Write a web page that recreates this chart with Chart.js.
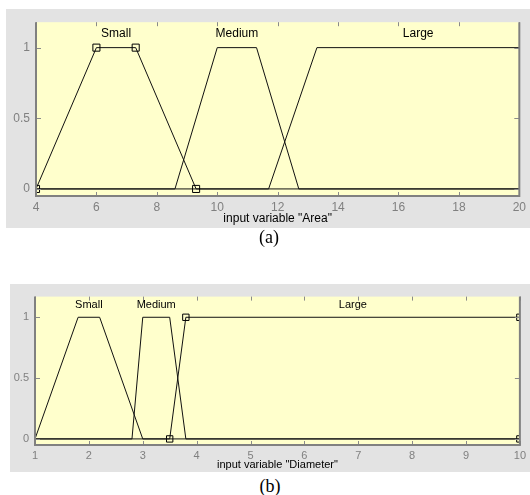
<!DOCTYPE html>
<html>
<head>
<meta charset="utf-8">
<script src="https://cdn.jsdelivr.net/npm/chart.js@4/dist/chart.umd.min.js"></script>
<style>
  html,body{margin:0;padding:0;background:#fff;width:530px;height:495px;overflow:hidden;}
  .box{position:absolute;background:#e3e3e3;}
  .cap{position:absolute;font-family:"Liberation Serif","Times New Roman",serif;font-size:18px;line-height:20px;color:#000;width:60px;text-align:center;}
</style>
</head>
<body>
<div class="box" style="left:6px;top:9px;width:524px;height:219px;"><canvas id="ca" width="524" height="219"></canvas></div>
<div class="cap" style="left:239px;top:227px;">(a)</div>
<div class="box" style="left:10px;top:284px;width:520px;height:188px;"><canvas id="cb" width="520" height="188"></canvas></div>
<div class="cap" style="left:240px;top:476px;">(b)</div>
<script>
// ---------- data: (a) input variable "Area" ----------
const areaTicksX = [4, 6, 8, 10, 12, 14, 16, 18, 20];
const yTicks = [0, 0.5, 1];
const areaSmallX = [4, 6, 7.3, 9.3, 20];
const areaSmallY = [0, 1, 1, 0, 0];
const areaSmallMarks = [1, 1, 1, 1, 0];
const areaMediumX = [4, 8.6, 10, 11.3, 12.7, 20];
const areaMediumY = [0, 0, 1, 1, 0, 0];
const areaLargeX = [4, 11.7, 13.3, 20];
const areaLargeY = [0, 0, 1, 1];
const areaNames = ['Small', 'Medium', 'Large'];
const areaNameX = [6.65, 10.65, 16.65];
const nameY = 1.1;

// ---------- data: (b) input variable "Diameter" ----------
const diaTicksX = [1, 2, 3, 4, 5, 6, 7, 8, 9, 10];
const diaSmallX = [1, 1.8, 2.2, 3, 10];
const diaSmallY = [0, 1, 1, 0, 0];
const diaMediumX = [1, 2.8, 3, 3.5, 3.8, 10];
const diaMediumY = [0, 0, 1, 1, 0, 0];
const diaLargeX = [1, 3.5, 3.8, 10, 10];
const diaLargeY = [0, 0, 1, 1, 0];
const diaLargeMarks = [0, 1, 1, 1, 1];
const diaNames = ['Small', 'Medium', 'Large'];
const diaNameX = [2.0, 3.25, 6.9];

const pts = (xs, ys) => xs.map((x, i) => ({x: x, y: ys[i]}));
const FONT = '"Liberation Sans", Arial, sans-serif';

function frame(cfg) {
  return {
    id: 'frame',
    beforeDraw(chart) {
      const a = chart.chartArea, c = chart.ctx;
      c.save();
      c.fillStyle = '#ffffcc';
      c.fillRect(a.left, a.top, a.right - a.left, a.bottom - a.top);
      c.restore();
    },
    afterDatasetsDraw(chart) {
      const a = chart.chartArea, c = chart.ctx;
      const xs = chart.scales.x, ys = chart.scales.y;
      c.save();
      c.strokeStyle = '#8a8a8a';
      c.lineWidth = 1;
      xs.ticks.forEach(t => {
        const px = Math.round(xs.getPixelForValue(t.value)) + 0.5;
        c.beginPath();
        c.moveTo(px, a.bottom); c.lineTo(px, a.bottom - 4);
        c.moveTo(px, a.top); c.lineTo(px, a.top + 4);
        c.stroke();
      });
      ys.ticks.forEach(t => {
        const py = Math.round(ys.getPixelForValue(t.value)) + 0.5;
        c.beginPath();
        c.moveTo(a.left, py); c.lineTo(a.left + 5, py);
        c.moveTo(a.right, py); c.lineTo(a.right - 5, py);
        c.stroke();
      });
      c.lineWidth = 2;
      c.strokeStyle = '#808080';
      c.beginPath();
      c.moveTo(a.left, a.top); c.lineTo(a.left, a.bottom);
      c.lineTo(a.right, a.bottom); c.lineTo(a.right, a.top);
      c.stroke();
      // MF names
      c.fillStyle = '#000';
      c.font = cfg.nameFont + 'px ' + FONT;
      c.textAlign = 'center';
      c.textBaseline = 'middle';
      cfg.names.forEach((n, i) => {
        c.fillText(n, xs.getPixelForValue(cfg.nameX[i]), ys.getPixelForValue(nameY));
      });
      c.restore();
    }
  };
}

function makeChart(id, cfg) {
  const line = (data, marks, r) => ({
    data: data,
    showLine: true,
    borderColor: '#111',
    borderWidth: 1,
    pointStyle: 'rect',
    pointRadius: marks ? marks.map(m => m ? r : 0) : 0,
    pointHoverRadius: 0,
    pointBorderColor: '#000',
    pointBorderWidth: 1,
    pointBackgroundColor: 'rgba(0,0,0,0)',
    tension: 0
  });
  return new Chart(document.getElementById(id), {
    type: 'scatter',
    data: {datasets: cfg.datasets.map(d => line(d.data, d.marks, cfg.markR))},
    options: {
      responsive: false,
      animation: false,
      events: [],
      layout: {padding: {top: 0, right: cfg.padRight, bottom: 0, left: 0}},
      plugins: {legend: {display: false}, tooltip: {enabled: false}},
      scales: {
        x: {
          type: 'linear', min: cfg.xMin, max: cfg.xMax,
          afterBuildTicks: s => { s.ticks = cfg.xTicks.map(v => ({value: v})); },
          afterFit: s => { s.height = cfg.xH; },
          grid: {display: false, drawTicks: false},
          border: {display: false},
          ticks: {color: '#808080', padding: 4, maxRotation: 0, autoSkip: false,
                  callback: v => String(v),
                  font: {family: FONT, size: cfg.tickFont}},
          title: {display: true, text: cfg.xTitle, color: '#000',
                  padding: {top: 0, bottom: cfg.titlePad},
                  font: {family: FONT, size: cfg.tickFont}}
        },
        y: {
          type: 'linear', min: cfg.yMin, max: cfg.yMax,
          afterBuildTicks: s => { s.ticks = yTicks.map(v => ({value: v})); },
          afterFit: s => { s.width = cfg.yW; },
          grid: {display: false, drawTicks: false},
          border: {display: false},
          ticks: {color: '#808080', padding: 6, callback: v => String(v),
                  font: {family: FONT, size: cfg.tickFont}}
        }
      }
    },
    plugins: [frame(cfg)]
  });
}

makeChart('ca', {
  datasets: [
    {data: pts(areaSmallX, areaSmallY), marks: areaSmallMarks},
    {data: pts(areaMediumX, areaMediumY)},
    {data: pts(areaLargeX, areaLargeY)}
  ],
  markR: 5, xMin: 4, xMax: 20, yMin: -0.05, yMax: 1.18,
  xTicks: areaTicksX, xTitle: 'input variable "Area"',
  xH: 32, yW: 30, padRight: 9, titlePad: 2, tickFont: 12, nameFont: 12,
  names: areaNames, nameX: areaNameX
});

makeChart('cb', {
  datasets: [
    {data: pts(diaSmallX, diaSmallY)},
    {data: pts(diaMediumX, diaMediumY)},
    {data: pts(diaLargeX, diaLargeY), marks: diaLargeMarks}
  ],
  markR: 4.5, xMin: 1, xMax: 10, yMin: -0.05, yMax: 1.17,
  xTicks: diaTicksX, xTitle: 'input variable "Diameter"',
  xH: 27, yW: 25, padRight: 8, titlePad: 0, tickFont: 11, nameFont: 11,
  names: diaNames, nameX: diaNameX
});
</script>
</body>
</html>
